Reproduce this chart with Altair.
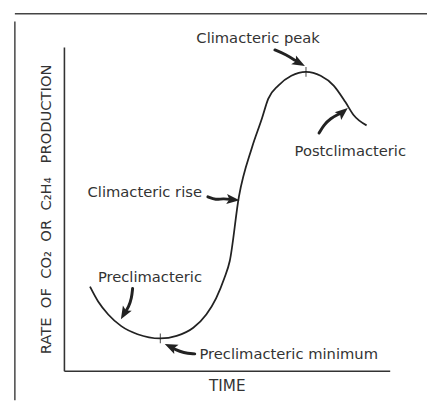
import altair as alt
import pandas as pd

# Main curve (time vs rate) (axes 0..100)
curve_x = [8.0, 10.5, 13.6, 17.6, 22.6, 29.6, 34.6, 39.7, 43.7, 46.7, 49.2, 50.9,
           53.7, 57.7, 60.8, 62.7, 65.8, 69.8, 74.3, 78.8, 82.8, 86.4, 88.9, 92.9]
curve_y = [26.0, 21.4, 17.4, 13.8, 11.3, 10.0, 10.8, 13.3, 17.4, 22.4, 28.5, 33.9,
           53.7, 68.9, 78.0, 84.0, 88.1, 91.1, 92.3, 91.1, 88.1, 83.0, 79.0, 75.8]

# Marked points (minimum and peak)
mark_x = [29.6, 74.3]
mark_y = [10.0, 92.3]

# Annotation labels
label_text = ["Climacteric peak", "Climacteric rise", "Preclimacteric",
              "Preclimacteric minimum", "Postclimacteric"]
label_x = [59.6, 24.8, 26.4, 69.0, 87.9]
label_y = [102.7, 55.2, 29.1, 5.2, 67.9]

# Arrow shafts (id, x, y)
arrow_id = [1, 1, 1, 1,
            2, 2, 2, 2,
            3, 3, 3, 3,
            4, 4, 4, 4,
            5, 5, 5, 5, 5]
arrow_x = [64.76, 68.07, 71.39, 72.14,
           44.19, 46.69, 48.70, 51.81,
           21.08, 20.78, 19.88, 18.52,
           40.15, 36.66, 34.13, 32.83,
           78.31, 79.82, 81.84, 84.34, 85.54]
arrow_y = [99.09, 97.73, 95.61, 95.15,
           53.73, 52.73, 53.24, 52.88,
           25.45, 22.42, 19.70, 17.73,
           5.24, 5.55, 6.58, 7.42,
           73.42, 75.97, 77.97, 79.30, 79.85]

# Arrow heads
head_x = [72.14, 51.81, 18.52, 32.83, 85.54]
head_y = [95.15, 52.88, 17.73, 7.42, 79.85]
head_angle = [118, 95, 210, 295, 50]

# Scanned figure frame (left and top edges)
frame_left_x = -15.06
frame_top_y = 110.3

NB = "\u00a0"
y_title = f"RATE{NB}{NB}OF{NB}{NB}CO₂{NB}{NB}OR{NB}{NB}C₂H₄{NB}{NB}{NB}PRODUCTION"

curve = pd.DataFrame({"x": curve_x, "y": curve_y})
marks = pd.DataFrame({"x": mark_x, "y": mark_y})
labels = pd.DataFrame({"text": label_text, "x": label_x, "y": label_y})
arrows = pd.DataFrame({"id": arrow_id, "x": arrow_x, "y": arrow_y,
                       "o": list(range(len(arrow_x)))})
heads = pd.DataFrame({"x": head_x, "y": head_y, "a": head_angle})

xs = alt.Scale(domain=[0, 100], nice=False, zero=False)
ys = alt.Scale(domain=[0, 100], nice=False, zero=False)

xax = alt.Axis(title="TIME", labels=False, ticks=False, grid=False,
               domainColor="#333", domainWidth=1.6, titleFont="DejaVu Sans",
               titleFontSize=15.5, titleFontWeight="normal", titleColor="#333",
               titlePadding=8)
yax = alt.Axis(title=y_title, labels=False, ticks=False,
               grid=False, domainColor="#333", domainWidth=1.6,
               titleFont="DejaVu Sans", titleFontSize=15, titleFontWeight="normal",
               titleColor="#333", titlePadding=11)

base_curve = alt.Chart(curve).mark_line(
    color="#222", strokeWidth=1.8, interpolate="monotone"
).encode(x=alt.X("x:Q", scale=xs, axis=xax), y=alt.Y("y:Q", scale=ys, axis=yax))

ticks = alt.Chart(marks).mark_tick(
    color="#222", orient="vertical", size=10, thickness=1.2
).encode(x=alt.X("x:Q", scale=xs), y=alt.Y("y:Q", scale=ys))

text = alt.Chart(labels).mark_text(
    font="DejaVu Sans", fontSize=15, color="#333", align="center", baseline="middle"
).encode(x=alt.X("x:Q", scale=xs), y=alt.Y("y:Q", scale=ys), text="text:N")

shafts = alt.Chart(arrows).mark_line(
    color="#222", strokeWidth=3, interpolate="basis", strokeCap="round"
).encode(x=alt.X("x:Q", scale=xs), y=alt.Y("y:Q", scale=ys),
         detail="id:N", order="o:Q")

arrowheads = alt.Chart(heads).mark_point(
    shape="M0,-1L0.75,0.9L0,0.5L-0.75,0.9Z", filled=True, color="#222",
    size=190, opacity=1
).encode(x=alt.X("x:Q", scale=xs), y=alt.Y("y:Q", scale=ys),
         angle=alt.Angle("a:Q", scale=None))

frame_v = alt.Chart(pd.DataFrame({"x": [frame_left_x]})).mark_rule(
    color="#444", strokeWidth=1.5
).encode(x=alt.X("x:Q", scale=xs), y=alt.value(-26), y2=alt.value(360))

frame_h = alt.Chart(pd.DataFrame({"y": [frame_top_y]})).mark_rule(
    color="#444", strokeWidth=1.5
).encode(y=alt.Y("y:Q", scale=ys), x=alt.value(-50), x2=alt.value(400))

chart = alt.layer(frame_v, frame_h, base_curve, ticks, shafts, arrowheads, text).properties(
    width=332, height=330,
    autosize=alt.AutoSizeParams(type="none"),
    padding={"left": 57, "top": 36, "right": 38, "bottom": 28},
    background="white"
).configure_view(stroke=None)

chart.save("out.html", embed_options={"renderer": "svg", "actions": False})
